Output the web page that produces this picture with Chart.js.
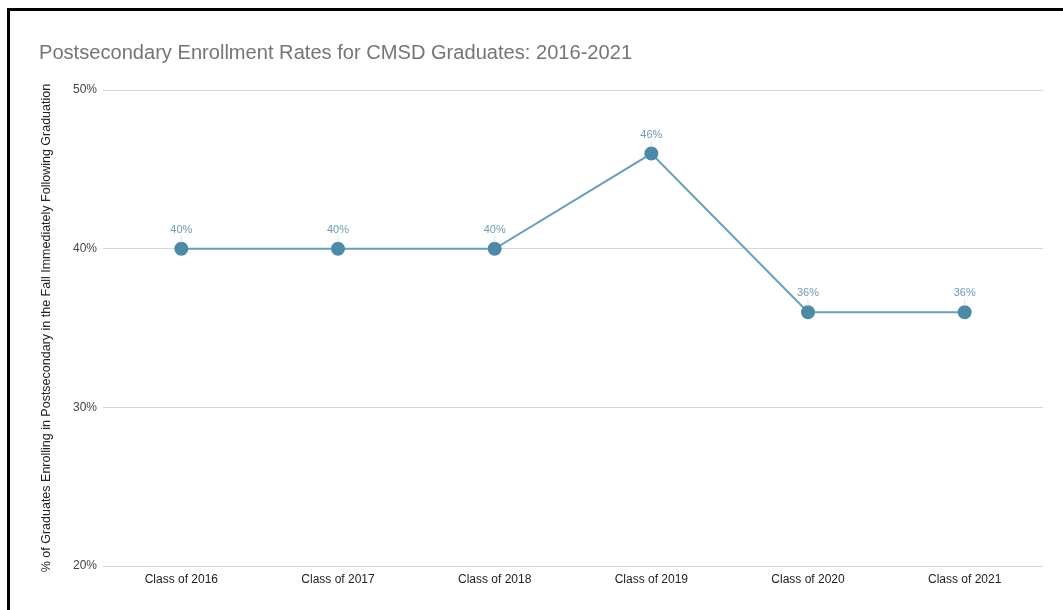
<!DOCTYPE html>
<html>
<head>
<meta charset="utf-8">
<script src="https://cdn.jsdelivr.net/npm/chart.js@4"></script>
<style>
  html, body { margin: 0; padding: 0; background: #fff; }
  #frame {
    position: absolute; left: 7px; top: 8px;
    width: 1100px; height: 650px;
    border: 3px solid #000; box-sizing: border-box;
  }
  #wrap { position: absolute; left: 0; top: 0; width: 1063px; height: 610px; }
</style>
</head>
<body>
<div id="frame"></div>
<div id="wrap"><canvas id="chart"></canvas></div>
<script>
const classes = ['Class of 2016', 'Class of 2017', 'Class of 2018', 'Class of 2019', 'Class of 2020', 'Class of 2021'];
const enrollmentRate = [40, 40, 40, 46, 36, 36];
const yTicks = [20, 30, 40, 50];

const FONT = "'Liberation Sans', Arial, sans-serif";

// labels above each point, like the sheet's data labels
const pointLabels = {
    id: 'pointLabels',
    afterDatasetsDraw(chart) {
        const ctx = chart.ctx;
        const meta = chart.getDatasetMeta(0);
        ctx.save();
        ctx.font = '11px ' + FONT;
        ctx.textAlign = 'center';
        ctx.textBaseline = 'middle';
        meta.data.forEach((pt, i) => {
            ctx.strokeStyle = 'rgba(200,210,215,0.6)';
            ctx.lineWidth = 1;
            ctx.beginPath();
            ctx.moveTo(pt.x, pt.y - 6);
            ctx.lineTo(pt.x, pt.y - 13);
            ctx.stroke();
            ctx.fillStyle = '#6d9bb5';
            ctx.fillText(enrollmentRate[i] + '%', pt.x, pt.y - 19);
        });
        ctx.restore();
    }
};

new Chart(document.getElementById('chart'), {
    type: 'line',
    data: {
        labels: classes,
        datasets: [{
            data: enrollmentRate,
            borderColor: '#6a9fbb',
            borderWidth: 2,
            pointBackgroundColor: '#4d8aa8',
            pointBorderColor: '#4d8aa8',
            pointRadius: 6,
            pointHoverRadius: 6,
            tension: 0
        }]
    },
    options: {
        responsive: true,
        maintainAspectRatio: false,
        animation: false,
        layout: { padding: { left: 39, top: 41, right: 20, bottom: 14 } },
        plugins: {
            legend: { display: false },
            tooltip: { enabled: false },
            title: {
                display: true,
                text: 'Postsecondary Enrollment Rates for CMSD Graduates: 2016-2021',
                align: 'start',
                color: '#757575',
                font: { family: FONT, size: 20.1, weight: 'normal', lineHeight: 1.2 },
                padding: { top: 0, bottom: 25 }
            }
        },
        scales: {
            x: {
                offset: true,
                afterFit: (s) => { s.height = 30; },
                grid: { display: false, drawTicks: false },
                border: { display: false },
                ticks: {
                    color: '#222',
                    font: { family: FONT, size: 12 },
                    padding: 6,
                    maxRotation: 0
                }
            },
            y: {
                min: 20,
                max: 50,
                afterBuildTicks: (s) => { s.ticks = yTicks.map(v => ({ value: v })); },
                afterFit: (s) => { s.width = 64; },
                grid: { color: '#d6d6d6', drawTicks: false },
                border: { display: false },
                ticks: {
                    color: '#444',
                    font: { family: FONT, size: 12 },
                    padding: 6,
                    callback: (v) => v + '%'
                },
                title: {
                    display: true,
                    text: '% of Graduates Enrolling in Postsecondary in the Fall Immediately Following Graduation',
                    color: '#222',
                    font: { family: FONT, size: 12.5 },
                    padding: { top: 0, bottom: 0 }
                }
            }
        }
    },
    plugins: [pointLabels]
});
</script>
</body>
</html>
